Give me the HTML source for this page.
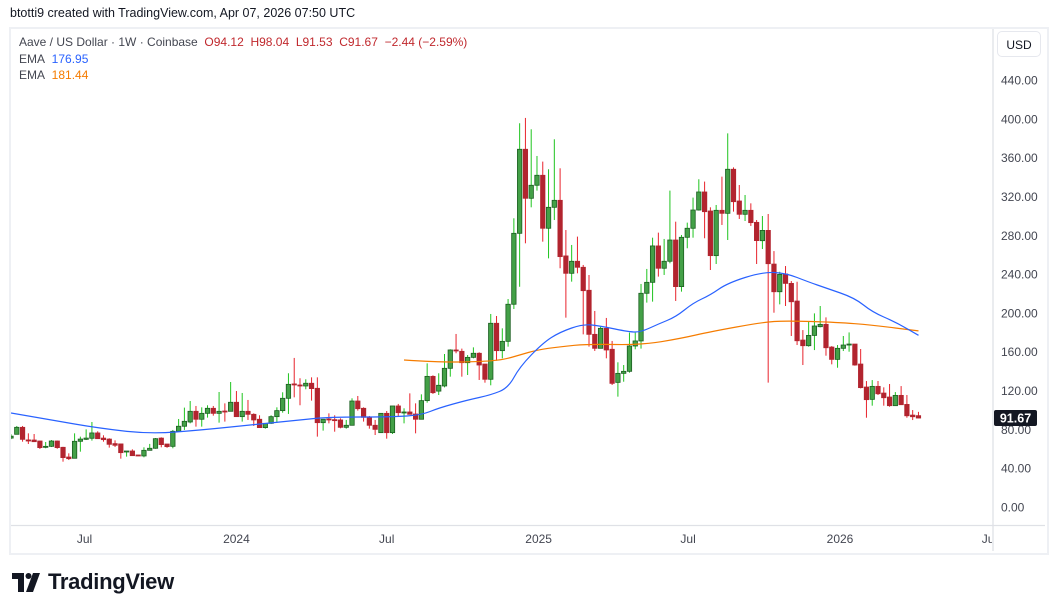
<!DOCTYPE html>
<html><head><meta charset="utf-8">
<style>
html,body{margin:0;padding:0;background:#fff;width:1057px;height:613px;overflow:hidden;font-family:"Liberation Sans","DejaVu Sans",sans-serif;}
#hdr{position:absolute;left:10px;top:6px;font-size:12.5px;color:#131722;}
#frame{position:absolute;left:9px;top:27px;width:1036px;height:524px;border:2px solid #eef0f4;box-sizing:content-box;}
.leg{position:absolute;left:19px;font-size:12px;color:#434651;}
#usd{position:absolute;left:997px;top:31px;width:44px;height:26px;border:1px solid #e6e8ee;border-radius:5px;font-size:12px;color:#131722;text-align:center;line-height:26px;box-sizing:border-box;}
#logo{position:absolute;left:48px;top:569px;font-size:22px;font-weight:bold;color:#131722;letter-spacing:-0.3px;}
svg{position:absolute;left:0;top:0;}
</style></head><body>
<div id="hdr">btotti9 created with TradingView.com, Apr 07, 2026 07:50 UTC</div>
<div id="frame"></div>
<div class="leg" style="top:35px">Aave / US Dollar · 1W · Coinbase&nbsp; <span style="color:#c0282d">O</span><span style="color:#c0282d">94.12</span>&nbsp; <span style="color:#c0282d">H98.04</span>&nbsp; <span style="color:#c0282d">L91.53</span>&nbsp; <span style="color:#c0282d">C91.67</span>&nbsp; <span style="color:#c0282d">−2.44 (−2.59%)</span></div>
<div class="leg" style="top:52px">EMA&nbsp; <span style="color:#2962ff">176.95</span></div>
<div class="leg" style="top:68px">EMA&nbsp; <span style="color:#f57c00">181.44</span></div>
<div id="usd">USD</div>
<div id="logo">TradingView</div>
<svg id="chart" width="1057" height="613"></svg>
<script>
const opens=[71,74.9,82.1,69.1,69,68,61.5,62.5,68,61.5,51.5,50.2,67.7,69.7,70.8,76.3,71,70,65.3,65,57,57.7,53.6,52.6,58.4,60.5,71,64.9,62.5,78,83.2,87.6,98.6,90.4,96.5,101.7,96.5,98.9,98.6,107.9,93.1,98.6,95.5,90.4,81.8,86.2,93.1,99.3,112,126.8,125.7,124.7,127.5,122.3,86.9,90.7,90,89.7,82.1,84.2,109.2,101.7,92.4,84.2,76.6,96.5,76.6,104.1,97.2,97.9,95.8,90.4,109.6,134.6,119.4,124.7,142.9,161.8,160.4,148.7,154.2,158.4,147.3,131.6,189.3,161.1,170.7,208.9,282,368.6,318.1,331.5,341.8,287.2,308.8,316,258.7,240.8,253.2,247,223.3,177.9,163.5,184.1,162.5,128.4,137.7,139.8,165.9,171.1,220.2,231.5,269,246,253.2,275.1,227.1,277.9,287.2,306,324.6,305,259,305.7,302.6,348,315.3,301.6,305.7,293.3,274.4,285,250.3,221.8,240.1,230.4,212.2,172,166.2,176.8,185.8,188.2,164.8,152.1,163.5,167.2,167.9,147.3,123.6,110.9,124.3,117.4,113.3,104.4,115,105.7,94.7,94.12];
const highs=[75,83.5,83.5,75.9,75.2,68.3,67,69,68.5,62,55.3,75.9,72.5,80,87.6,78,73.9,70.8,68.7,65,57.7,59.4,53.6,61.5,65,71.1,71.8,64.9,79.4,90.7,102.4,109.2,104.1,102.7,104.8,104.1,118.5,106.8,128.8,119.5,117.5,110.3,96.5,94.5,86.2,94.5,102.7,118.2,137.8,153.6,132.6,131.6,133.6,133.6,90.4,96.5,94.5,91.4,89.7,112,114.4,102.7,93.8,89.7,96.5,98.9,104.1,106.2,101.7,117.1,106.8,116.1,148,135.7,137.8,157.7,162.5,178.3,163.2,156.6,164.5,159.4,147.3,198.9,196.8,184.1,214.3,297.5,395.4,400.9,389.2,361.7,355.9,348,378.9,349,285.4,270,278.6,249.4,239.1,202,185.8,194.8,171.1,149.1,146.3,179.7,179.7,229.8,245.3,277.5,282.7,276.2,326,294,280.3,293,318.8,337.7,335.3,308.8,311.2,340.4,385,350,331.8,321.5,312.9,295.7,299.8,301.9,263.7,242.4,248.3,232.8,232.1,182.3,190.9,199.5,207.1,195.4,165.8,166.9,176.2,179.9,167.9,162.8,129.8,130.8,129.8,123.3,126.7,118.4,124.6,115.4,99.9,98.04];
const lows=[70,74.9,67.3,64.9,67,59.8,60.5,61.8,60,46.7,48.4,50,57,69,68.4,70.4,67.3,61.2,61.8,49.8,51.9,52.9,52.5,51.2,58.4,60,61.5,61,60.5,77.6,79.4,86.2,82.8,82.8,92.1,94.1,86.9,88,98.6,93.1,88,89.7,83.5,81.8,80.7,85.5,86.9,97.2,95.9,113,104.8,121.3,109.6,72.5,78.7,86.2,77.6,81.1,80.7,84.2,99.3,88,80.7,74.2,76.6,70.4,75.2,93.8,86.2,95.5,75.9,90.4,107.5,116.5,115.4,123.3,134.3,158.4,134.3,136,153.2,130.9,128.1,125.4,150.8,153.2,165.2,204,227,271.7,308.8,326,273.4,256.2,295.7,246,195.1,232.2,240.8,177.9,165.2,160.8,163.5,153.2,125.7,113.7,129.1,138.4,162.5,163.2,210.6,211.6,237.4,239.1,251.1,212.3,221.9,266.6,277.5,305.4,276.9,244.2,250.4,290.6,275.1,304.3,296.8,294.7,289.6,250.4,265.8,128.1,200.2,208.8,207.1,176.2,166.9,146.3,165.2,161.7,185.1,155.9,147,143.5,160.7,160,145.6,122.2,92,104.4,115.4,104.4,103.3,104.4,105.4,92,89.6,91.53];
const closes=[73,82.1,69.7,68,67.3,61.2,62.5,68,61.2,50.9,49.8,67.7,70,71,76.3,70.4,69.4,64.6,63.6,56,57.7,52.9,52.9,58.4,60.5,70.4,64.3,62.2,78,83.2,88.3,98.6,90.4,96.5,101.7,96.5,98.6,98.2,107.9,93.1,98.6,95.5,89.7,81.8,86.2,93.1,99.3,112,126.4,126.1,124.7,127.5,122,86.9,90.4,90,89,82.1,84.2,109.2,101.3,92.4,84.2,80,96.5,76.6,104.1,97.2,97.9,95.5,90.4,109.6,134.6,117.8,125.4,142.9,161.8,161.1,148.7,154.2,158.4,146.3,131.6,189.3,161.1,170.7,208.9,282,368.6,318.1,331.5,341.8,287.2,308.8,316,258,240.8,253.2,247,222.9,177.9,163.5,184.1,161.8,127.4,137.7,139.8,165.9,171.1,220.2,231.5,269,246,253.2,275.1,227.1,277.9,287.2,306,324.6,304.3,259,305.7,302.6,348,314.6,301.6,305.7,293,274.5,285,250.7,221.8,239.7,230.4,211.5,171.3,166.2,176.8,186.5,188.2,164.1,152.1,163.5,166.9,167.9,146.3,123,110.6,124.3,116.7,112.6,104.4,115,105.4,94,93,91.67];
const emaFastIdx=[0,7,15,24,33,43,50,55,66,71,74,79,83,86,88,92,95,99,102,107,109,112,115,118,121,124,130,134,138,141,146,149,153,157];
const emaFastVal=[96.9,89.6,81.4,75.2,79.3,85.5,89.6,92.7,92.7,94.8,102,110.3,115.4,122.6,144.3,169,180.3,188.6,186.5,180.3,180.3,188.6,195.8,210.2,218.4,230.8,242.1,241.1,231.8,225.7,215.4,200.9,190.6,176.95];
const emaSlowIdx=[68,74,81,85,88,91,95,100,109,116,121,130,134,143,149,157];
const emaSlowVal=[151.5,149.1,149.7,151.5,156.6,161.8,165.2,168,166.9,173.8,180.6,190.3,192,190.3,187.5,181.44];
const priceTicks=[0,40,80,120,160,200,240,280,320,360,400,440];
const timeTickLabels=["Jul","2024","Jul","2025","Jul","2026","Jul"];
const timeTickDates=["2023-07-01","2024-01-01","2024-07-01","2025-01-01","2025-07-01","2026-01-01","2026-07-01"];
const lastPrice=91.67;

const NS="http://www.w3.org/2000/svg";
const svg=document.getElementById('chart');
const PL=11,PR=991,PT=29,PB=524;
const x0=11,step=5.78;
const xOf=i=>x0+i*step;
const yOf=v=>507-v*0.9705;
const lastDate=Date.UTC(2026,3,6);
const lastIdx=opens.length-1;
function el(t,a){const e=document.createElementNS(NS,t);for(const k in a)e.setAttribute(k,a[k]);return e;}
const defs=el('defs',{});svg.appendChild(defs);
const clip=el('clipPath',{id:'pc'});clip.appendChild(el('rect',{x:PL,y:PT,width:PR-PL,height:PB-PT}));defs.appendChild(clip);
const tc=el('clipPath',{id:'tc'});tc.appendChild(el('rect',{x:11,y:526,width:981,height:25}));defs.appendChild(tc);
const g=el('g',{'clip-path':'url(#pc)'});svg.appendChild(g);
// logo icon
const li=el('g',{fill:'#131722'});


li.appendChild(el('path',{d:'M12 573 H24 V592 H18 V579 H12 Z'}));
li.appendChild(el('circle',{cx:28.5,cy:576,r:3}));
li.appendChild(el('path',{d:'M33 573 H40 L33 592 H26 Z'}));
svg.appendChild(li);
// axes separators
const ax1=el('line',{x1:993,y1:29,x2:993,y2:551,stroke:'#dfe1e6','stroke-width':1.3});


svg.appendChild(ax1);
const ax2=el('line',{x1:11,y1:525.5,x2:1045,y2:525.5,stroke:'#dfe1e6','stroke-width':1.3});


svg.appendChild(ax2);
// candles
for(let i=0;i<opens.length;i++){
  const up=closes[i]>=opens[i];
  const x=xOf(i);
  const w=el('line',{x1:x,x2:x,y1:yOf(highs[i]),y2:yOf(lows[i]),stroke:up?'#1fc41f':'#e8232c','stroke-width':1});
  
  
  g.appendChild(w);
  const top=yOf(Math.max(opens[i],closes[i])),bot=yOf(Math.min(opens[i],closes[i]));
  const b=el('rect',{x:x-2.2,y:top,width:4.4,height:Math.max(1,bot-top),fill:up?'#43a047':'#b2242f',stroke:up?'#1b5e20':'#b2242f','stroke-width':0.8});
  
  
  g.appendChild(b);
}
function line(idx,val,color,name){
  const px=idx.map(xOf),py=val.map(yOf);
  let d='M'+px[0].toFixed(1)+' '+py[0].toFixed(1);
  for(let k=1;k<px.length-1;k++){
    const mx=(px[k]+px[k+1])/2,my=(py[k]+py[k+1])/2;
    d+=' Q'+px[k].toFixed(1)+' '+py[k].toFixed(1)+' '+mx.toFixed(1)+' '+my.toFixed(1);
  }
  const n=px.length-1;d+=' L'+px[n].toFixed(1)+' '+py[n].toFixed(1);
  const p=el('path',{d:d,fill:'none',stroke:color,'stroke-width':1.2,'stroke-linejoin':'round'});
  
  
  g.appendChild(p);
}
line(emaSlowIdx,emaSlowVal,'#f57c00','ema-slow-line');
line(emaFastIdx,emaFastVal,'#2962ff','ema-fast-line');
// price ticks
for(const v of priceTicks){
  const t=el('text',{x:1001,y:yOf(v)+4.5,'font-size':12,fill:'#434651','font-family':'Liberation Sans, sans-serif'});
  t.textContent=v.toFixed(2);
  
  
  svg.appendChild(t);
}
// time ticks
for(let k=0;k<timeTickLabels.length;k++){
  const p=timeTickDates[k].split('-');
  const d=Date.UTC(+p[0],+p[1]-1,+p[2]);
  const idx=lastIdx+(d-lastDate)/(7*864e5);
  const t=el('text',{x:xOf(idx),y:543,'font-size':12,fill:'#434651','text-anchor':'middle','font-family':'Liberation Sans, sans-serif','clip-path':'url(#tc)'});
  t.textContent=timeTickLabels[k];
  
  
  svg.appendChild(t);
}
// last price label
const ly=yOf(lastPrice);
const lb=el('rect',{x:994,y:ly-8,width:43,height:16,rx:2,fill:'#131722'});


svg.appendChild(lb);
const lt=el('text',{x:1015.5,y:ly+4.5,'font-size':12.5,'font-weight':'bold',fill:'#fff','text-anchor':'middle','font-family':'Liberation Sans, sans-serif'});
lt.textContent=lastPrice.toFixed(2);


svg.appendChild(lt);
</script>
</body></html>
